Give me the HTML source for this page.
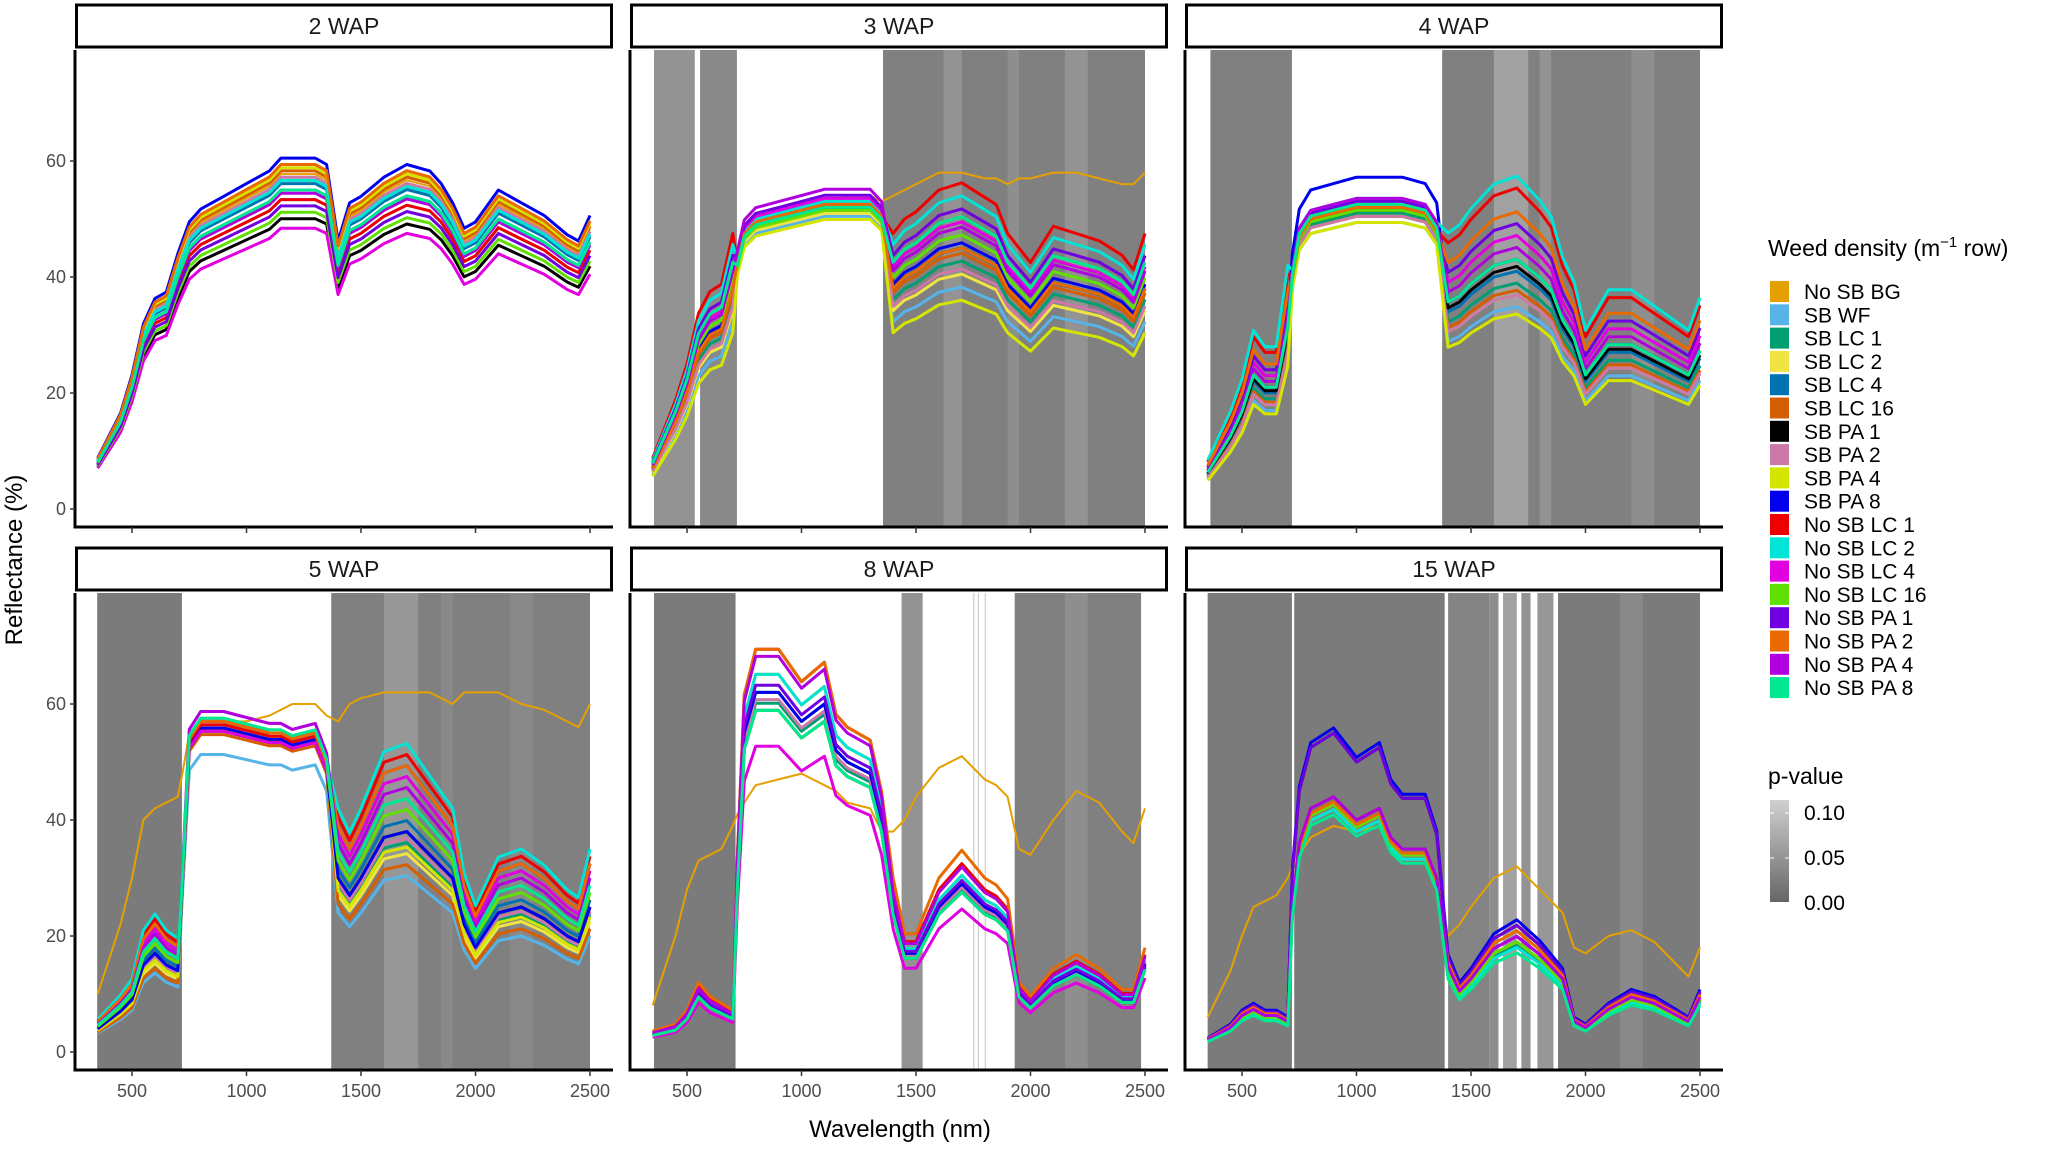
<!DOCTYPE html>
<html><head><meta charset="utf-8"><style>
body{margin:0;background:#fff;width:2067px;height:1145px;overflow:hidden;font-family:"Liberation Sans",Arial,sans-serif}
</style></head><body>
<svg id="chart" width="2067" height="1145" xmlns="http://www.w3.org/2000/svg"></svg>
<script>
const knots=[350,450,500,550,600,650,700,720,750,800,900,1000,1100,1150,1200,1300,1350,1400,1450,1500,1600,1700,1800,1850,1900,1950,2000,2100,2200,2300,2400,2450,2500];
const panelNames=["2 WAP","3 WAP","4 WAP","5 WAP","8 WAP","15 WAP"];
const base2=[8,15,21,29,33,34,40,42,45,47,49,51,53,55,55,55,54,42,48,49,52,54,53,51,48,44,45,50,48,46,43,42,46];
const base3=[7,15,20,27,30,31,38,42,47,49,50,51,52,52,52,52,50,38,40,41,44,45,43,42,38,36,34,39,38,37,35,33,38];
const base4=[6,12,16,22,20,20,30,40,47,50,51,52,52,52,52,51,48,34,35,37,40,41,38,36,31,28,22,27,27,25,23,22,26];
const base5=[4,7,9,15,17,15,14,30,54,57,57,56,55,55,54,55,50,30,27,30,37,38,34,32,30,22,18,24,25,23,20,19,25];
const base8=[3,4,6,10,8,7,6,30,55,62,62,57,60,52,50,48,40,25,17,17,25,29,25,24,22,10,8,12,14,12,9,9,15];
const base15=[2,4,6,7,6,6,5,25,36,42,44,40,42,37,35,35,30,14,10,12,17,19,16,14,12,5,4,7,9,8,6,5,9];
const bg3=[9,18,24,30,33,35,40,43,48,50,51,52,53,53,54,54,53,54,55,56,58,58,57,57,56,57,57,58,58,57,56,56,58];
const bg5=[10,22,30,40,42,43,44,48,55,57,57,57,58,59,60,60,58,57,60,61,62,62,62,61,60,62,62,62,60,59,57,56,60];
const bg8=[8,20,28,33,34,35,39,41,43,46,47,48,46,45,43,42,38,38,40,44,49,51,47,46,44,35,34,40,45,43,38,36,42];
const bg15=[6,14,20,25,26,27,30,32,34,37,39,38,39,37,35,35,30,20,22,25,30,32,28,26,24,18,17,20,21,19,15,13,18];
// factors for visible + SWIR regions
const fac2=[1.05,0.97,1.0,1.03,1.02,1.06,0.91,1.04,1.07,1.1,0.97,1.03,0.88,0.93,0.95,1.08,0.99,1.0];
const fac3=[null,0.85,0.95,0.9,1.0,0.98,1.0,0.92,0.8,1.02,1.25,1.2,1.1,1.05,1.15,1.0,1.08,1.12];
const fac4=[1.05,0.85,0.95,0.9,1.0,0.92,1.02,0.9,0.82,1.05,1.35,1.4,1.15,1.1,1.2,1.25,1.1,1.05];
const fac5=[null,0.8,0.95,0.9,1.05,0.85,1.0,0.97,0.93,1.0,1.35,1.4,1.25,1.1,1.3,1.3,1.2,1.15];
const fac8=[null,0.95,0.97,1.0,1.0,1.05,0.95,0.98,1.05,1.0,1.12,1.05,0.85,0.95,1.02,1.2,1.1,0.95];
const fac15=[null,0.95,0.97,1.0,1.05,1.0,1.15,1.0,1.1,1.2,1.15,0.95,1.05,1.0,1.15,1.1,1.05,0.9];
// factors for near-infrared plateau
const nir2=[1.05,0.97,1.0,1.03,1.02,1.06,0.91,1.04,1.07,1.1,0.97,1.03,0.88,0.93,0.95,1.08,0.99,1.0];
const nir3=[null,0.97,0.99,0.98,1.0,1.0,1.0,0.99,0.96,1.02,1.01,1.02,1.03,0.99,1.04,1.01,1.06,1.0];
const nir4=[1.0,0.95,0.98,0.97,1.0,0.97,0.99,0.97,0.95,1.1,1.0,1.03,1.02,0.99,1.02,1.0,1.03,1.01];
const nir5=[null,0.9,0.98,0.97,1.0,0.96,0.97,1.03,0.98,0.98,0.99,1.0,0.97,1.0,1.0,1.0,1.03,1.01];
const nir8=[null,0.95,0.97,1.0,1.0,1.05,0.95,0.98,1.05,1.0,1.12,1.05,0.85,0.95,1.02,1.12,1.1,0.95];
const nir15=[null,0.95,0.97,0.97,1.0,1.0,1.25,0.97,0.95,1.27,0.98,0.95,0.97,0.97,1.25,0.98,1.0,0.93];
const bands2=[];
const bands3=[[356,534,0.03],[557,718,0.02],[1356,2500,0.01],[1620,1700,0.03],[1900,1950,0.025],[2150,2250,0.03]];
const bands4=[[362,718,0.01],[1374,2500,0.01],[1600,1750,0.045],[1800,1850,0.03],[2200,2300,0.025]];
const bands5=[[348,718,0.005],[1370,2500,0.01],[1600,1750,0.035],[1850,1900,0.02],[2150,2250,0.02]];
const bands8=[[356,712,0.005],[1437,1529,0.03],[1750,1755,0.09],[1770,1775,0.09],[1800,1805,0.09],[1931,2483,0.01],[2150,2250,0.025]];
const bands15=[[350,718,0.005],[728,1385,0.005],[1400,1580,0.015],[1580,1620,0.025],[1640,1700,0.045],[1720,1760,0.03],[1790,1860,0.035],[1880,2500,0.005],[2150,2250,0.02]];
const seriesNames=["No SB BG","SB WF","SB LC 1","SB LC 2","SB LC 4","SB LC 16","SB PA 1","SB PA 2","SB PA 4","SB PA 8","No SB LC 1","No SB LC 2","No SB LC 4","No SB LC 16","No SB PA 1","No SB PA 2","No SB PA 4","No SB PA 8"];
const colors=["#E69F00","#56B4E9","#009E73","#F0E442","#0072B2","#D55E00","#000000","#CC79A7","#d4e600","#0000ee","#ee0000","#00e5d5","#e000e0","#5fe000","#7000e0","#e86a00","#b000e0","#00e890"];
const xTicks=[500,1000,1500,2000,2500];
const yTicks=[0,20,40,60];
const pTicks=[0.10,0.05,0.00];

const bases=[base2,base3,base4,base5,base8,base15];
const bgs=[null,bg3,null,bg5,bg8,bg15];
const facs=[fac2,fac3,fac4,fac5,fac8,fac15];
const nirs=[nir2,nir3,nir4,nir5,nir8,nir15];
const bandsAll=[bands2,bands3,bands4,bands5,bands8,bands15];
const NS="http://www.w3.org/2000/svg";
const svg=document.getElementById('chart');
function el(t,a,p){const e=document.createElementNS(NS,t);for(const k in a)e.setAttribute(k,a[k]);(p||svg).appendChild(e);return e;}
const colX=[75,630,1185],rowY=[50,593],W=538,H=477;
function grayOf(p){const g=Math.round(118+Math.min(p,0.1)/0.1*95);return `rgb(${g},${g},${g})`;}
for(let i=0;i<6;i++){
  const x0=colX[i%3],y0=rowY[Math.floor(i/3)];
  const sx=w=>x0+57+(w-500)*0.229, sy=v=>y0+459-v*5.8;
  const g=el('g',{});  
  const cp=el('clipPath',{id:'cp'+i},g); el('rect',{x:x0,y:y0,width:W,height:H},cp);
  const st=el('rect',{x:x0+1.5,y:y0-45,width:W-3,height:42,fill:'#fff',stroke:'#000','stroke-width':3},g);
   
  const tt=el('text',{x:x0+W/2,y:y0-16,'text-anchor':'middle','font-size':23,fill:'#1a1a1a'},g); tt.textContent=panelNames[i];
   
  bandsAll[i].forEach(b=>{const r=el('rect',{x:sx(b[0]),y:y0,width:sx(b[1])-sx(b[0]),height:H,fill:grayOf(b[2])},g);
     });
  const lg=el('g',{'clip-path':`url(#cp${i})`},g);
  for(let s=0;s<18;s++){
    let vals;
    if(s===0&&bgs[i]) vals=bgs[i];
    else { const f=facs[i][s]??1, fn=nirs[i][s]??1;
      vals=bases[i].map((v,k)=>{const w=knots[k]; return v*((w>=720&&w<=1350)?fn:f);}); }
    const d=knots.map((w,k)=>(k?'L':'M')+sx(w).toFixed(1)+','+sy(vals[k]).toFixed(1)).join('');
    const pth=el('path',{d,fill:'none',stroke:colors[s],'stroke-width':s===0?2:3,'stroke-linejoin':'round'},lg);
     
  }
  el('line',{x1:x0,y1:y0,x2:x0,y2:y0+H+1.5,stroke:'#000','stroke-width':3},g);
  el('line',{x1:x0-1.5,y1:y0+H,x2:x0+W,y2:y0+H,stroke:'#000','stroke-width':3},g);
  if(i%3===0) yTicks.forEach(v=>{el('line',{x1:x0-5,x2:x0,y1:sy(v),y2:sy(v),stroke:'#333','stroke-width':1.5},g);
    const t=el('text',{x:x0-9,y:sy(v)+6,'text-anchor':'end','font-size':18,fill:'#4d4d4d'},g);t.textContent=v;
     });
  xTicks.forEach(v=>{el('line',{x1:sx(v),x2:sx(v),y1:y0+H,y2:y0+H+6,stroke:'#333','stroke-width':1.5},g);
    if(i>=3){const t=el('text',{x:sx(v),y:y0+H+27,'text-anchor':'middle','font-size':18,fill:'#4d4d4d'},g);t.textContent=v;
     }});
}
const xt=el('text',{x:900,y:1137,'text-anchor':'middle','font-size':24,fill:'#000'});xt.textContent='Wavelength (nm)';
 
const yt=el('text',{x:22,y:560,'text-anchor':'middle','font-size':24,fill:'#000',transform:'rotate(-90 22 560)'});yt.textContent='Reflectance (%)';
 
const lt=el('text',{x:1768,y:256,'font-size':23,fill:'#000'});lt.innerHTML='Weed density (m<tspan dy="-9" font-size="15">−1</tspan><tspan dy="9"> row)</tspan>';
 
seriesNames.forEach((n,k)=>{const y=281+k*23.3;
  const r=el('rect',{x:1770,y:y,width:19,height:21,fill:colors[k]});
   
  const t=el('text',{x:1804,y:y+18,'font-size':21,fill:'#000'});t.textContent=n;
   });
const pt=el('text',{x:1768,y:784,'font-size':23,fill:'#000'});pt.textContent='p-value';
 
const defs=el('defs',{});const lgd=el('linearGradient',{id:'pg',x1:0,y1:1,x2:0,y2:0},defs);
el('stop',{offset:0,'stop-color':'#666'},lgd);el('stop',{offset:1,'stop-color':'#d0d0d0'},lgd);
const cb=el('rect',{x:1770,y:800,width:19,height:102,fill:'url(#pg)'});
 
pTicks.forEach(p=>{const y=903-p/0.1*90;
  el('line',{x1:1770,x2:1774,y1:y,y2:y,stroke:'#fff'});el('line',{x1:1785,x2:1789,y1:y,y2:y,stroke:'#fff'});
  const t=el('text',{x:1804,y:y+7,'font-size':21,fill:'#000'});t.textContent=p.toFixed(2);
   });
</script>
</body></html>
